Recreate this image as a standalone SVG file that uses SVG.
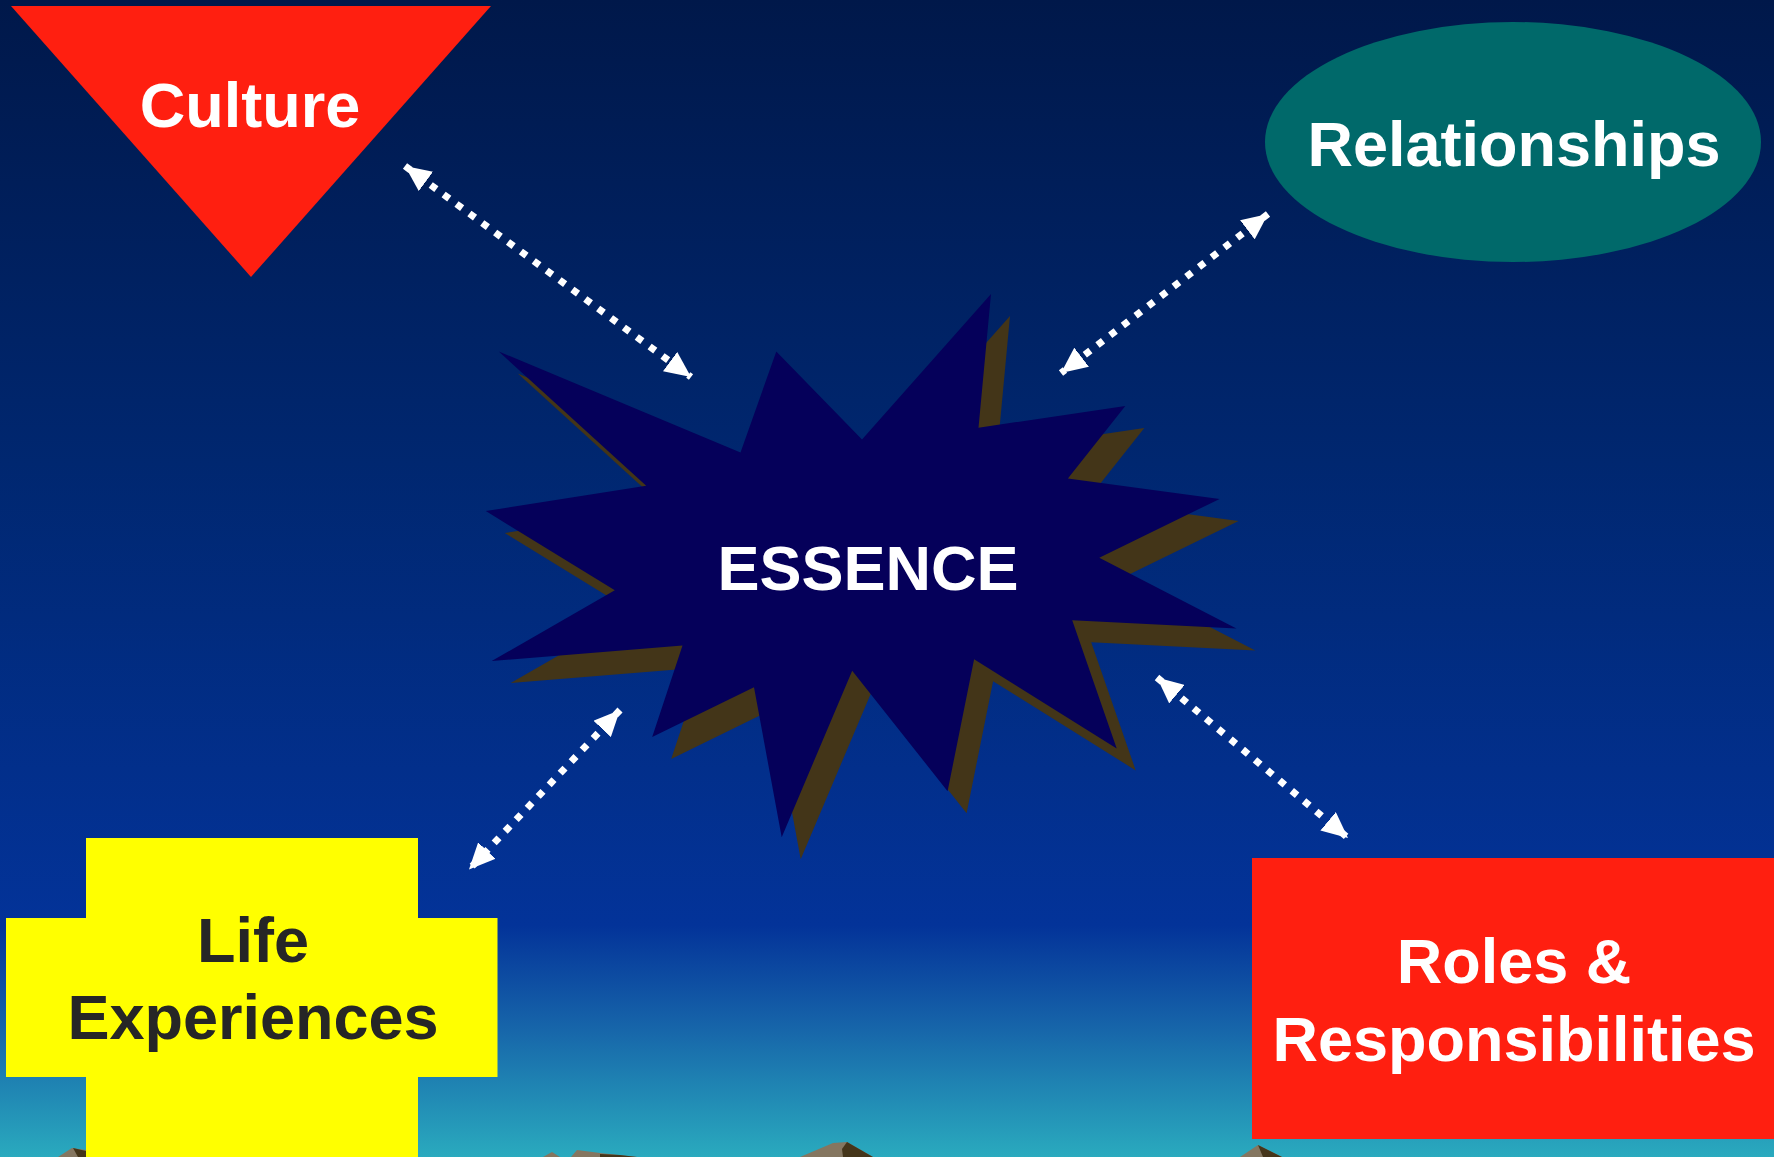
<svg xmlns="http://www.w3.org/2000/svg" width="1774" height="1157" viewBox="0 0 1774 1157">
  <defs>
    <linearGradient id="sky" x1="0" y1="0" x2="0" y2="1157" gradientUnits="userSpaceOnUse">
      <stop offset="0" stop-color="#00184a"/>
      <stop offset="0.4" stop-color="#002770"/>
      <stop offset="0.8" stop-color="#033399"/>
      <stop offset="0.88" stop-color="#1560a8"/>
      <stop offset="1" stop-color="#2aaabe"/>
    </linearGradient>
    <marker id="ah" viewBox="0 0 26 24" refX="26" refY="12" markerWidth="26" markerHeight="24" markerUnits="userSpaceOnUse" orient="auto-start-reverse">
      <path d="M0,0 L26,12 L0,24 z" fill="#ffffff"/>
    </marker>
    <style>
      .lbl { font-family: "Liberation Sans", Arial, sans-serif; font-weight: bold; font-size: 63px; text-anchor: middle; }
      .w { fill: #ffffff; }
      .d { fill: #262626; }
      .conn { stroke: #ffffff; stroke-width: 7; stroke-dasharray: 7 9; fill: none; marker-start: url(#ah); marker-end: url(#ah); }
      .mtl { fill: #857660; }
      .mtd { fill: #45351a; }
    </style>
  </defs>
  <rect x="0" y="0" width="1774" height="1157" fill="url(#sky)"/>
  <g id="mountains">
    <polygon class="mtl" points="58,1157 72,1148 86,1150 86,1157"/>
    <polygon class="mtd" points="73,1148 86,1151 86,1157 78,1157"/>
    <polygon class="mtl" points="543,1157 552,1152 560,1157"/>
    <polygon class="mtl" points="571,1157 577,1150 600,1153 637,1157"/>
    <polygon class="mtd" points="600,1154 620,1155 637,1157 600,1157"/>
    <polygon class="mtl" points="800,1157 833,1143 847,1142 873,1157"/>
    <polygon class="mtd" points="847,1142 873,1157 843,1157 842,1149"/>
    <polygon class="mtl" points="1240,1157 1258,1145 1282,1157"/>
    <polygon class="mtd" points="1258,1145 1282,1157 1263,1157"/>
  </g>
  <g id="connectors">
    <line class="conn" x1="405" y1="166" x2="691" y2="377"/>
    <line class="conn" x1="1268" y1="214" x2="1061" y2="373"/>
    <line class="conn" x1="620" y1="710" x2="469" y2="869.5"/>
    <line class="conn" x1="1157" y1="677.5" x2="1348" y2="838"/>
  </g>
  <g id="culture">
    <polygon points="11,6 491,6 251,277" fill="#ff1f10"/>
    <text class="lbl w" x="250" y="127">Culture</text>
  </g>
  <g id="relationships">
    <ellipse cx="1513" cy="142" rx="248" ry="120" fill="#00696a"/>
    <text class="lbl w" x="1514" y="166">Relationships</text>
  </g>
  <g id="essence">
    <polygon transform="translate(19,22)" fill="#433518" points="498.8,351.5 740.5,452.5 776.3,351.5 862,439.5 991,294 978.5,427.7 1125.3,406 1067.9,478.6 1219.6,498.9 1099.3,557.8 1236.4,628.6 1072.2,620.2 1116.7,748.4 974.1,659.2 947.6,791.2 852.2,670.7 781.7,837.2 754,687.2 652.2,736.9 682.5,645.4 491.7,661.1 614.8,590.3 485.8,511.1 646.2,485.8"/>
    <polygon fill="#05005a" points="498.8,351.5 740.5,452.5 776.3,351.5 862,439.5 991,294 978.5,427.7 1125.3,406 1067.9,478.6 1219.6,498.9 1099.3,557.8 1236.4,628.6 1072.2,620.2 1116.7,748.4 974.1,659.2 947.6,791.2 852.2,670.7 781.7,837.2 754,687.2 652.2,736.9 682.5,645.4 491.7,661.1 614.8,590.3 485.8,511.1 646.2,485.8"/>
    <text class="lbl w" x="868" y="590">ESSENCE</text>
  </g>
  <g id="life-experiences">
    <polygon fill="#ffff00" points="86,838 418,838 418,918 497.5,918 497.5,1077 418,1077 418,1157 86,1157 86,1077 6,1077 6,918 86,918"/>
    <text class="lbl d" x="253" y="962">Life</text>
    <text class="lbl d" x="253" y="1039">Experiences</text>
  </g>
  <g id="roles">
    <rect x="1252" y="858" width="522" height="281" fill="#ff1f10"/>
    <text class="lbl w" x="1514" y="983">Roles &amp;</text>
    <text class="lbl w" x="1514" y="1061">Responsibilities</text>
  </g>
</svg>
